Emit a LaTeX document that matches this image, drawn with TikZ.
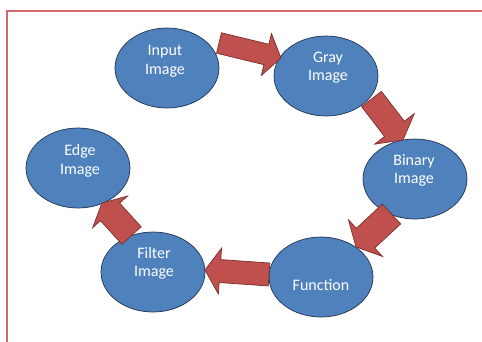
\documentclass[tikz,border=0pt]{standalone}
\usepackage{fontspec}
\setmainfont{Carlito}
\usetikzlibrary{shapes.geometric,calc}
\definecolor{blobblue}{HTML}{4F81BD}
\definecolor{bloboutline}{HTML}{22344F}
\definecolor{arrred}{HTML}{C0504D}
\definecolor{arroutline}{HTML}{7A2E2C}
\definecolor{framered}{HTML}{D4686B}
\tikzset{
  blob/.style={ellipse, fill=blobblue, draw=bloboutline, line width=0.7pt,
    minimum width=104pt, minimum height=80pt, inner sep=0pt},
  blobtext/.style={text=white, font=\fontsize{16}{18.5}\selectfont, align=center, inner sep=0pt},
  blockarrow/.style={fill=arrred, draw=arroutline, line width=0.7pt, line join=miter}
}
% tail, tip, shaft half width, head half width, head length
\newcommand\blockarr[5]{%
  \coordinate (bb) at ($(#2)!#5!(#1)$);
  \path[blockarrow] ($(#1)!#3!90:(#2)$) -- ($(bb)!#3!90:(#2)$) -- ($(bb)!#4!90:(#2)$)
    -- (#2) -- ($(bb)!#4!-90:(#2)$) -- ($(bb)!#3!-90:(#2)$) -- ($(#1)!#3!-90:(#2)$) -- cycle;
}
\begin{document}
\begin{tikzpicture}[x=1pt,y=-1pt]
\useasboundingbox[fill=white] (0,0) rectangle (482,341);
\draw[framered, line width=2pt] (7,342) -- (7,11) -- (483,11);

\node[blob] (in) at (167,68) {};
\node[blob] (gray) at (326,76) {};
\node[blob] (bin) at (415,179) {};
\node[blob] (edge) at (78,168) {};
\node[blob] (filt) at (153,272) {};
\node[blob] (func) at (321,277) {};

\node[blobtext] (inT) at (165,61) {Input\\Image};
\node[blobtext] (grayT) at (328,67.5) {Gray\\Image};
\node[blobtext] (binT) at (414,170.5) {Binary\\Image};
\node[blobtext] (edgeT) at (80,161) {Edge\\Image};
\node[blobtext] (filtT) at (154,263.5) {Filter\\Image};
\node[blobtext] (funcT) at (321,285) {Function};

\coordinate (t1) at (219,43);   \coordinate (h1) at (281,58);
\coordinate (t2) at (371.5,99); \coordinate (h2) at (403,140);
\coordinate (t3) at (391.5,214);\coordinate (h3) at (356,247);
\coordinate (t4) at (269,274.5);\coordinate (h4) at (205,270);
\coordinate (t5) at (131.5,235.5);\coordinate (h5) at (102,203);

\blockarr{t1}{h1}{10.5pt}{21.5pt}{15pt}
\blockarr{t2}{h2}{12.5pt}{25pt}{14pt}
\blockarr{t3}{h3}{13.5pt}{25pt}{13pt}
\blockarr{t4}{h4}{11.5pt}{23pt}{15pt}
\blockarr{t5}{h5}{13pt}{23.5pt}{12pt}
\end{tikzpicture}
\end{document}
